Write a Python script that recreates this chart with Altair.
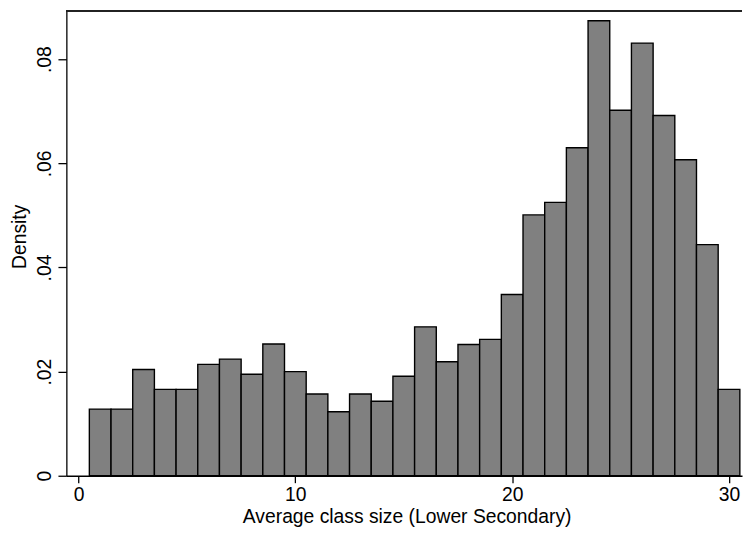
import altair as alt
import pandas as pd

# Histogram bins (width 1) and their densities
bin_start = [0.5 + i for i in range(30)]
bin_end = [s + 1 for s in bin_start]
density = [
    0.0128, 0.0128, 0.0204, 0.0166, 0.0166, 0.0214, 0.0224, 0.0195, 0.0253, 0.0200,
    0.0157, 0.0123, 0.0157, 0.0143, 0.0191, 0.0286, 0.0219, 0.0252, 0.0262, 0.0348,
    0.0501, 0.0525, 0.0630, 0.0874, 0.0702, 0.0831, 0.0692, 0.0607, 0.0444, 0.0166,
]
x_ticks = [0, 10, 20, 30]
y_ticks = [0, 0.02, 0.04, 0.06, 0.08]

df = pd.DataFrame({"start": bin_start, "end": bin_end, "density": density})

FONT = "Liberation Sans"
W, H = 683, 470

bars = alt.Chart(df).mark_rect(
    fill="#808080", stroke="#000000", strokeWidth=1.4
).encode(
    x=alt.X(
        "start:Q",
        scale=alt.Scale(domain=[-0.56, 30.6], nice=False, zero=False),
        axis=alt.Axis(
            values=x_ticks, title="Average class size (Lower Secondary)",
            grid=False, tickSize=7, labelPadding=3.5, labelBaseline="top",
            labelFlush=False, labelFontSize=19.5, titleFontSize=19.5,
            titleFontWeight="normal",
            titleX=344, titleY=47, titleBaseline="alphabetic", titleAlign="center",
        ),
    ),
    x2="end:Q",
    y=alt.Y(
        "density:Q",
        scale=alt.Scale(domain=[0, 0.0893], nice=False),
        axis=alt.Axis(
            values=y_ticks, title="Density", grid=False, tickSize=8.5,
            labelAngle=270, labelAlign="center", labelBaseline="alphabetic",
            labelPadding=8, labelFontSize=19.5, labelOverlap=False,
            labelExpr="datum.value == 0 ? '0' : substring(format(datum.value, '.2f'), 1)",
            titleFontSize=19.5, titleFontWeight="normal", titleAngle=270,
            titleX=-47, titleY=228, titleAlign="center", titleBaseline="middle",
        ),
    ),
    y2=alt.datum(0),
)

top_rule = alt.Chart(df).mark_rule(color="#222222", strokeWidth=1.3).encode(
    x=alt.value(0), x2=alt.value(W), y=alt.value(0)
)

chart = alt.layer(bars, top_rule).properties(
    width=W, height=H,
    padding={"left": 59, "top": 0, "right": 2, "bottom": 51},
    autosize=alt.AutoSizeParams(type="none"),
    background="#ffffff",
).configure_view(
    strokeWidth=0
).configure_axis(
    labelFont=FONT, titleFont=FONT, labelColor="#000000", titleColor="#000000",
    titleFontWeight="normal", domainColor="#000000", domainWidth=1.3,
    tickColor="#000000", tickWidth=1.3,
)

chart.save("out.html", embed_options={"renderer": "svg", "actions": False})
